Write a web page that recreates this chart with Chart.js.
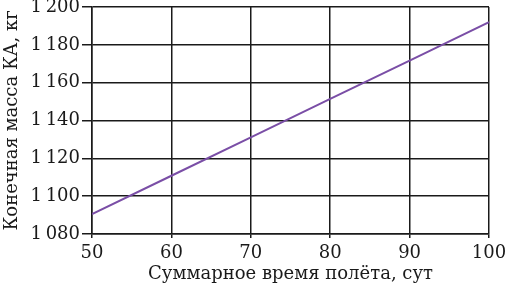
<!DOCTYPE html>
<html>
<head>
<meta charset="utf-8">
<script src="https://cdn.jsdelivr.net/npm/chart.js@4"></script>
<style>
  html, body { margin: 0; padding: 0; background: #fff; }
  #wrap { width: 505px; height: 289px; }
</style>
</head>
<body>
<div id="wrap"><canvas id="massChart"></canvas></div>
<script>
// flight time, days
const days = [50, 60, 70, 80, 90, 100];
// final spacecraft mass, kg
const mass = [1090.5, 1110.8, 1131.1, 1151.4, 1171.7, 1192];
const xTicks = [50, 60, 70, 80, 90, 100];
const yTicks = [1080, 1100, 1120, 1140, 1160, 1180, 1200];

const fontFamily = "'DejaVu Serif', serif";
const ink = "#1a1a1a";

const fmtMass = (v) => {
  const s = String(v);
  return s.slice(0, s.length - 3) + "\u2009" + s.slice(-3);
};

new Chart(document.getElementById("massChart"), {
  type: "line",
  data: {
    datasets: [
      {
        data: days.map((d, i) => ({ x: d, y: mass[i] })),
        borderColor: "#7a4ea6",
        borderWidth: 2,
        pointRadius: 0,
        tension: 0,
      },
    ],
  },
  options: {
    responsive: true,
    maintainAspectRatio: false,
    animation: false,
    devicePixelRatio: 1,
    layout: { padding: { top: 7, right: 16, left: 0, bottom: 0 } },
    plugins: { legend: { display: false }, tooltip: { enabled: false } },
    scales: {
      x: {
        type: "linear",
        min: 50,
        max: 100,
        afterBuildTicks: (s) => { s.ticks = xTicks.map((v) => ({ value: v })); },
        afterFit: (s) => { s.height = 55; s.paddingLeft = 0; s.paddingRight = 0; },
        grid: { color: ink, lineWidth: 1.5, tickLength: 4 },
        border: { color: ink, width: 1.5 },
        ticks: { color: ink, padding: 5, font: { family: fontFamily, size: 18 } },
        title: {
          display: true,
          text: "Суммарное время полёта, сут",
          color: ink,
          padding: { top: 0, bottom: 4 },
          font: { family: fontFamily, size: 18 },
        },
      },
      y: {
        min: 1080,
        max: 1200,
        afterBuildTicks: (s) => { s.ticks = yTicks.map((v) => ({ value: v })); },
        afterFit: (s) => { s.width = 92; s.paddingTop = 0; s.paddingBottom = 0; },
        grid: { color: ink, lineWidth: 1.5, tickLength: 10 },
        border: { color: ink, width: 1.5 },
        ticks: {
          color: ink,
          padding: 2,
          font: { family: fontFamily, size: 18 },
          callback: (v) => fmtMass(v),
        },
        title: {
          display: true,
          text: "Конечная масса КА, кг",
          color: ink,
          padding: { top: 2, bottom: 0 },
          font: { family: fontFamily, size: 18 },
        },
      },
    },
  },
});
</script>
</body>
</html>
